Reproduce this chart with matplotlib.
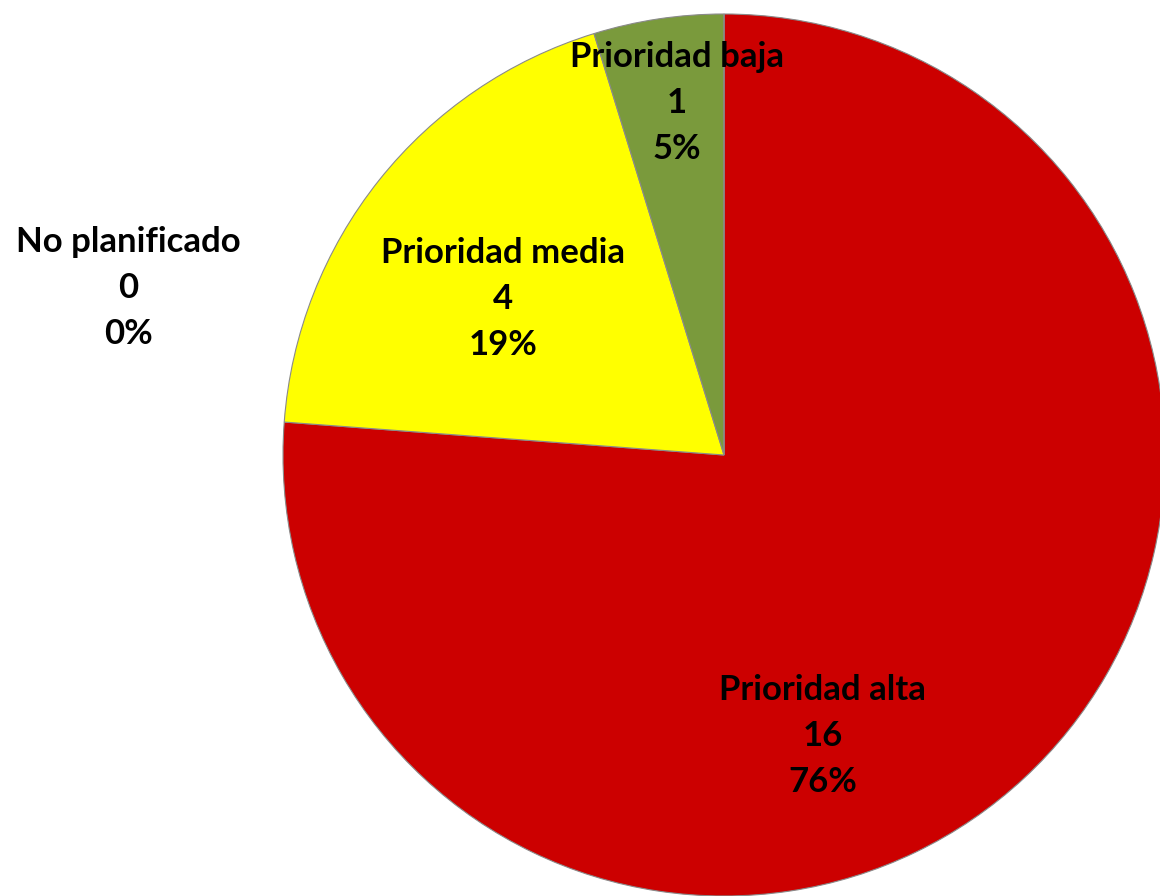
import matplotlib.pyplot as plt

# slice data (clockwise from 12 o'clock)
categories = ['Prioridad alta', 'Prioridad media', 'Prioridad baja', 'No planificado']
values = [16, 4, 1, 0]
colors = ['#CC0000', '#FFFF00', '#7A9A3C', '#4F81BD']

# where the data labels sit (pie radius = 1)
label_pos = [(0.224, -0.637), (-0.501, 0.354), (-0.107, 0.798), (-1.351, 0.379)]

plt.rcParams['font.family'] = ['Lato', 'DejaVu Sans']

fig = plt.figure(figsize=(11.6, 8.96), dpi=100)
ax = fig.add_axes([0, 0, 1, 1])

ax.pie(values, colors=colors, startangle=90, counterclock=False, radius=1.0,
       wedgeprops=dict(edgecolor='#8a8a8a', linewidth=0.8))

total = sum(values)
for name, v, (x, y) in zip(categories, values, label_pos):
    pct = round(100 * v / total)
    ax.text(x, y, f"{name}\n{v}\n{pct}%", ha='center', va='center',
            fontsize=25, fontweight='bold', linespacing=1.53, color='black')

# pie centre at (724, 455) px, radius 441 px
ax.set_xlim(-724 / 441, (1160 - 724) / 441)
ax.set_ylim(-(896 - 455) / 441, 455 / 441)
ax.set_aspect('auto')
ax.axis('off')

fig.savefig('out.png', dpi=100)
